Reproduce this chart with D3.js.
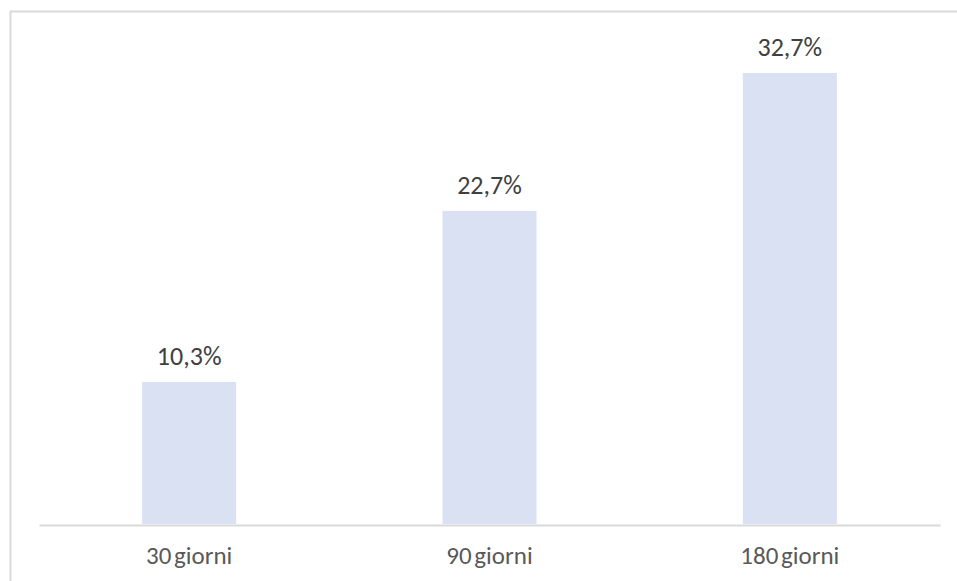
<!DOCTYPE html>
<html>
<head>
<meta charset="utf-8">
<script src="https://cdn.jsdelivr.net/npm/d3@7"></script>
<style>
  html, body { margin: 0; padding: 0; background: #fff; }
  svg { display: block; }
</style>
</head>
<body>
<svg id="chart" width="957" height="581"></svg>
<script>
// Share of cases by time window
const categories = ["30 giorni", "90 giorni", "180 giorni"];
const values = [10.3, 22.7, 32.7];
const valueLabels = ["10,3%", "22,7%", "32,7%"];

const svg = d3.select("#chart");
const W = 957, H = 581;
const font = "Carlito, Calibri, 'Open Sans', 'Liberation Sans', sans-serif";

// outer frame (only top and left edges fall inside the view)
svg.append("path")
  .attr("d", `M10.5,${H} V11.5 H${W}`)
  .attr("fill", "none")
  .attr("stroke", "#d9d9d9")
  .attr("stroke-width", 2);

const x = d3.scaleBand()
  .domain(categories)
  .range([39, 940])
  .paddingInner(0.687)
  .paddingOuter(0.3435);

const y = d3.scaleLinear()
  .domain([0, 32.7])
  .range([524, 73]);

const data = categories.map((c, i) => ({ c, v: values[i], label: valueLabels[i] }));

svg.append("g").selectAll("rect")
  .data(data)
  .join("rect")
  .attr("x", d => x(d.c))
  .attr("width", x.bandwidth())
  .attr("y", d => y(d.v))
  .attr("height", d => y(0) - y(d.v))
  .attr("fill", "#d9e1f2");

// category axis
const axis = svg.append("g")
  .attr("transform", `translate(0,${y(0) + 1})`)
  .call(d3.axisBottom(x).tickSize(0).tickPadding(21));
axis.select(".domain").attr("stroke", "#d9d9d9").attr("stroke-width", 2);
axis.selectAll("text")
  .attr("font-family", font)
  .attr("font-size", 25)
  .attr("word-spacing", -3)
  .attr("fill", "#595959");

// value labels above bars
svg.append("g").selectAll("text")
  .data(data)
  .join("text")
  .attr("x", d => x(d.c) + x.bandwidth() / 2)
  .attr("y", d => y(d.v) - 17)
  .attr("text-anchor", "middle")
  .attr("font-family", font)
  .attr("font-size", 26)
  .attr("fill", "#404040")
  .text(d => d.label);
</script>
</body>
</html>
